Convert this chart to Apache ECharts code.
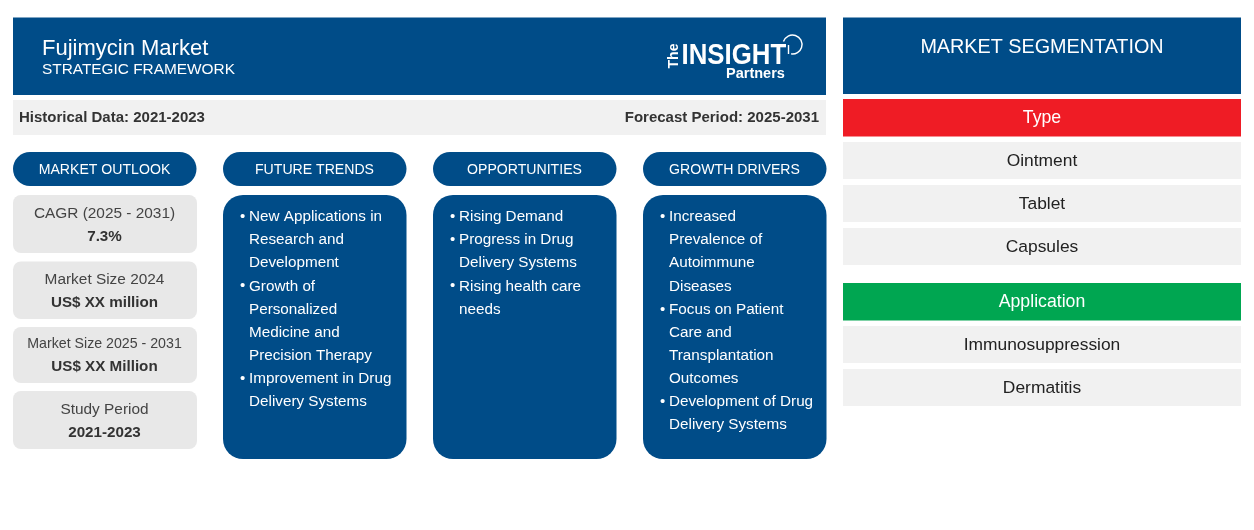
<!DOCTYPE html>
<html>
<head>
<meta charset="UTF-8">
<title>Fujimycin Market</title>
<script src="https://cdn.jsdelivr.net/npm/echarts@6/dist/echarts.min.js"></script>
<style>
html, body { margin: 0; padding: 0; background: #fff; }
#chart { width: 1254px; height: 530px; }
</style>
</head>
<body>
<div id="chart"></div>
<script type="text/javascript">
var titleText = 'Fujimycin Market';
var subtitleText = 'STRATEGIC FRAMEWORK';
var historicalText = 'Historical Data: 2021-2023';
var forecastText = 'Forecast Period: 2025-2031';
var columnTitles = ['MARKET OUTLOOK', 'FUTURE TRENDS', 'OPPORTUNITIES', 'GROWTH DRIVERS'];
var outlookLabels = ['CAGR (2025 - 2031)', 'Market Size 2024', 'Market Size 2025 - 2031', 'Study Period'];
var outlookValues = ['7.3%', 'US$ XX million', 'US$ XX Million', '2021-2023'];
var futureTrends = [
	['New Applications in', 'Research and', 'Development'],
	['Growth of', 'Personalized', 'Medicine and', 'Precision Therapy'],
	['Improvement in Drug', 'Delivery Systems']
];
var opportunities = [
	['Rising Demand'],
	['Progress in Drug', 'Delivery Systems'],
	['Rising health care', 'needs']
];
var growthDrivers = [
	['Increased', 'Prevalence of', 'Autoimmune', 'Diseases'],
	['Focus on Patient', 'Care and', 'Transplantation', 'Outcomes'],
	['Development of Drug', 'Delivery Systems']
];
var segmentationTitle = 'MARKET SEGMENTATION';
var typeTitle = 'Type';
var typeItems = ['Ointment', 'Tablet', 'Capsules'];
var applicationTitle = 'Application';
var applicationItems = ['Immunosuppression', 'Dermatitis'];

var NAVY = '#004c88';
var FONT = '"Liberation Sans", Arial, sans-serif';
var els = [];

function box(x, y, w, h, fill, r) {
	els.push({ type: 'rect', shape: { x: x, y: y, width: w, height: h, r: r || 0 }, style: { fill: fill } });
}
function label(text, x, y, size, color, align, weight) {
	els.push({
		type: 'text', x: x, y: y,
		style: {
			text: text, fill: color, font: (weight || 'normal') + ' ' + size + 'px ' + FONT,
			textAlign: align || 'left', textVerticalAlign: 'middle'
		}
	});
}

// top band
box(13, 17.5, 813, 77.5, NAVY);
label(titleText, 42, 48.5, 22, '#fff');
label(subtitleText, 42, 70, 15.4, '#fff');
box(13, 100, 813, 35, '#f1f1f1');
label(historicalText, 19, 118, 15, '#333', 'left', 'bold');
label(forecastText, 819, 118, 15, '#333', 'right', 'bold');

// logo
els.push({
	type: 'text', x: 681.5, y: 56, scaleX: 0.89,
	style: { text: 'INSIGHT', fill: '#fff', font: 'bold 29px ' + FONT, textAlign: 'left', textVerticalAlign: 'middle' }
});
label('Partners', 726, 74, 14.5, '#fff', 'left', 'bold');
els.push({
	type: 'text', x: 674, y: 56, rotation: Math.PI / 2,
	style: { text: 'The', fill: '#fff', font: 'bold 14px ' + FONT, textAlign: 'center', textVerticalAlign: 'middle' }
});
els.push({
	type: 'arc',
	shape: { cx: 792.5, cy: 44.5, r: 9.5, startAngle: Math.PI * 1.1, endAngle: Math.PI * 0.55, clockwise: true },
	style: { fill: 'none', stroke: '#fff', lineWidth: 1.4 }
});
els.push({
	type: 'line',
	shape: { x1: 788.5, y1: 45, x2: 788.5, y2: 54 },
	style: { stroke: '#fff', lineWidth: 1.4 }
});

// columns
var colX = [13, 223, 433, 643];
colX.forEach(function (x, i) {
	box(x, 152, 183.5, 34, NAVY, 17);
	label(columnTitles[i], x + 91.5, 170.5, 14.1, '#fff', 'center');
});

// outlook cards
var cardY = [195, 261.5, 327, 391];
var cardH = [58, 57.5, 56, 58];
var labelSize = [15.4, 15.4, 14.2, 15.4];
var labelMid = [214, 280, 344.5, 410];
var valueMid = [237, 303, 366.5, 433];
outlookLabels.forEach(function (t, i) {
	box(13, cardY[i], 184, cardH[i], '#e8e8e8', 8);
	label(t, 104.5, labelMid[i], labelSize[i], '#444', 'center');
	label(outlookValues[i], 104.5, valueMid[i], 15.2, '#333', 'center', 'bold');
});

// bullet panels
[futureTrends, opportunities, growthDrivers].forEach(function (list, i) {
	var x = colX[i + 1];
	box(x, 195, 183.5, 264, NAVY, 20);
	var line = 0;
	list.forEach(function (item) {
		item.forEach(function (t, j) {
			var y = 217 + line * 23.1;
			if (j === 0) label('\u2022', x + 17, y, 15, '#fff');
			label(t, x + 26, y, 15.25, '#fff');
			line++;
		});
	});
});

// segmentation column
box(843, 17.5, 398, 76.5, NAVY);
label(segmentationTitle, 1042, 47.5, 19.8, '#fff', 'center');
function segment(title, color, items, y) {
	box(843, y, 398, 37.5, color);
	label(title, 1042, y + 19.5, 17.7, '#fff', 'center');
	items.forEach(function (t, i) {
		var rowY = y + 43 * (i + 1);
		box(843, rowY, 398, 37, '#f1f1f1');
		label(t, 1042, rowY + 19.5, 17.4, '#222', 'center');
	});
}
segment(typeTitle, '#ef1c25', typeItems, 99);
segment(applicationTitle, '#00a651', applicationItems, 283);

var myChart = echarts.init(document.getElementById('chart'));
myChart.setOption({
	backgroundColor: '#fff',
	animation: false,
	graphic: { elements: els }
});
</script>
</body>
</html>
